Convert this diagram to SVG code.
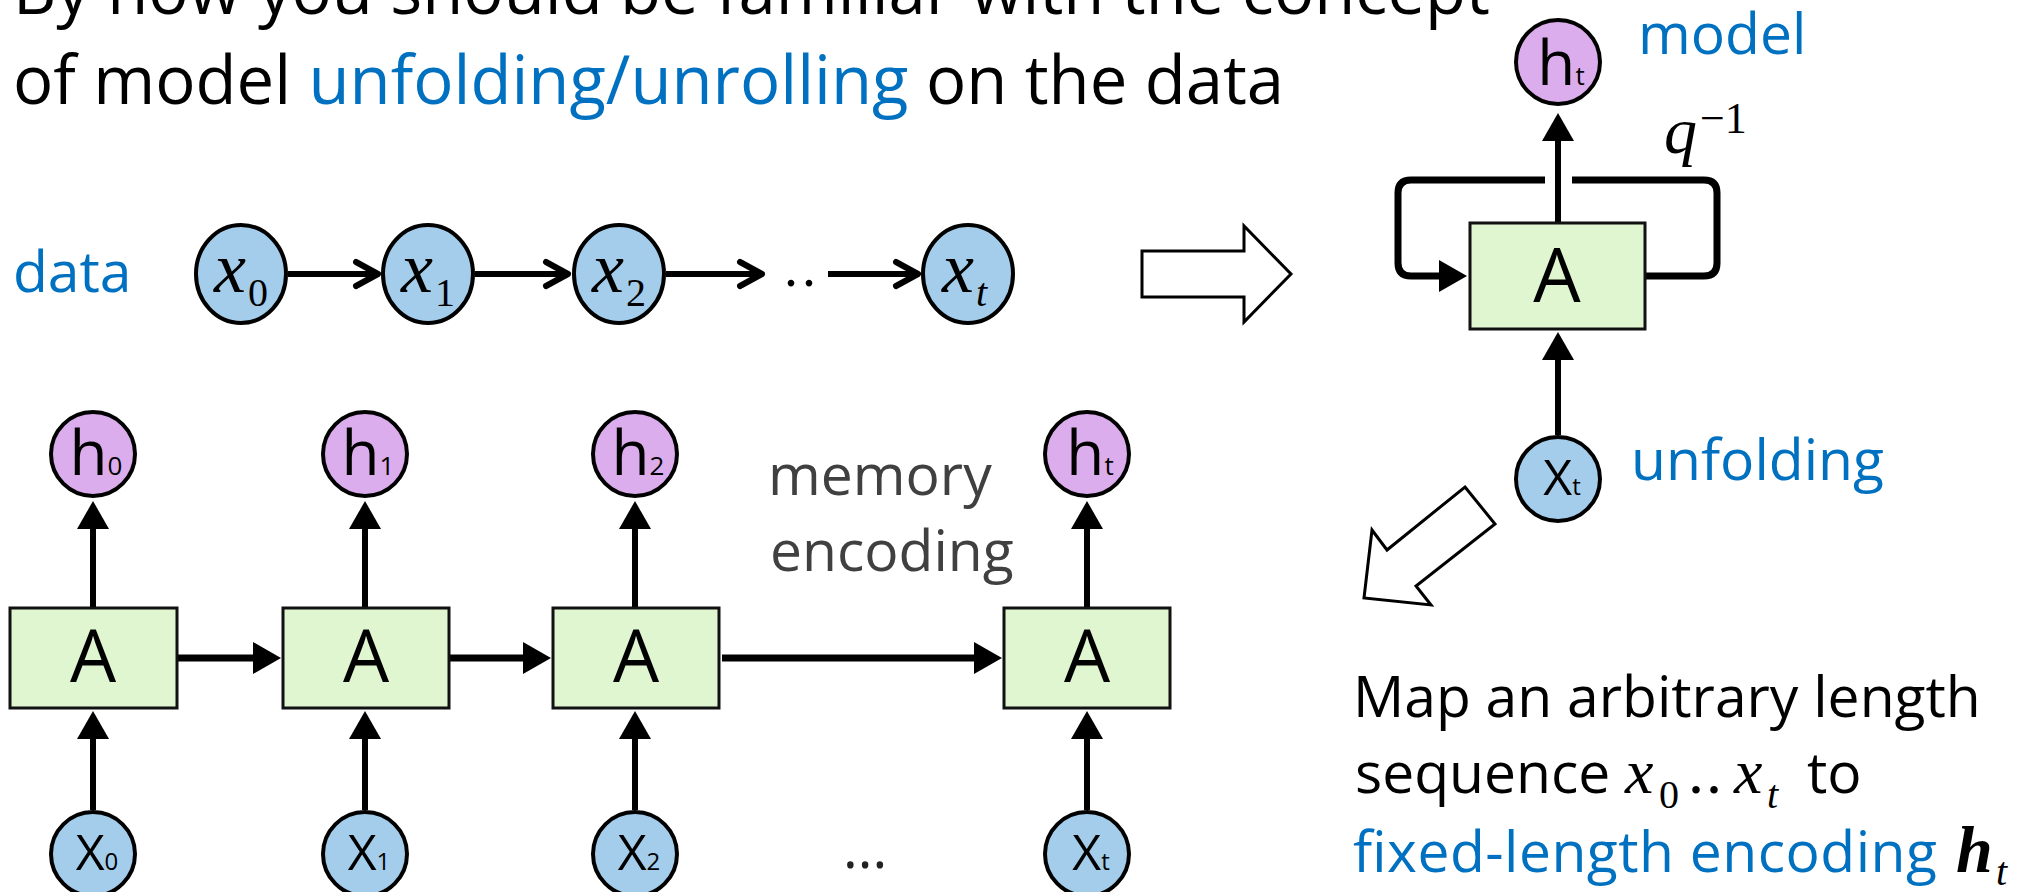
<svg xmlns="http://www.w3.org/2000/svg" width="2034" height="892" viewBox="0 0 2034 892">
<defs>
<style>
.t{font-family:"Open Sans","Noto Sans",sans-serif}
.title{font-size:67px;fill:#000}
.blue{fill:#0070c0}
.lbl{font-size:57px}
.gray{fill:#404040}
.math{font-family:"Liberation Serif","DejaVu Serif",serif;font-style:italic;fill:#000}
.up{font-style:normal}
.cb{fill:#a3cdeb;stroke:#000;stroke-width:4}
.ch{fill:#dcadec;stroke:#000;stroke-width:4}
.box{fill:#dff6d1;stroke:#111;stroke-width:3}
.ln{fill:none;stroke:#000;stroke-width:6}
.lnh{fill:none;stroke:#000;stroke-width:7}
.loop{fill:none;stroke:#000;stroke-width:7}
.blk{fill:#fff;stroke:#000;stroke-width:3}
.nl{font-family:"Open Sans","Noto Sans",sans-serif;fill:#000;text-anchor:middle}
.hl{font-size:62px}
.xl{font-size:50px}
.al{font-size:73px}
.dm{font-size:72px}
</style>
<marker id="tri" markerUnits="userSpaceOnUse" viewBox="0 0 28 32" markerWidth="28" markerHeight="32" refX="1" refY="16" orient="auto"><path d="M0,0 L28,16 L0,32 Z" fill="#000"/></marker>
<marker id="chev" markerUnits="userSpaceOnUse" viewBox="0 0 40 40" markerWidth="40" markerHeight="40" refX="31" refY="20" orient="auto"><path d="M9,8 L31,20 L9,32" fill="none" stroke="#000" stroke-width="6" stroke-linecap="round" stroke-linejoin="round"/></marker>
</defs>
<rect width="2034" height="892" fill="#fff"/>

<g id="title" class="t title">
<text x="13" y="14">By now you should be familiar with the concept</text>
<text x="13" y="104">of model <tspan class="blue">unfolding/unrolling</tspan> on the data</text>
</g>

<g id="labels" class="t lbl">
<text class="blue" x="13" y="292">data</text>
<text class="blue" x="1638" y="54">model</text>
<text class="blue" x="1631" y="480">unfolding</text>
<text class="gray" x="768" y="495">memory</text>
<text class="gray" x="770" y="571">encoding</text>
<text x="1353" y="717">Map an arbitrary length</text>
<text x="1355" y="793">sequence</text>
<text class="math" x="1625" y="793" font-size="64">x</text>
<text class="math up" x="1659" y="808" font-size="40">0</text>
<text class="math up" x="1688" y="793" font-size="64" letter-spacing="2">..</text>
<text class="math" x="1734" y="793" font-size="64">x</text>
<text class="math" x="1767" y="808" font-size="40">t</text>
<text x="1807" y="793">to</text>
<text class="blue" x="1353" y="872" textLength="584">fixed-length encoding</text>
<text class="math" x="1956" y="872" font-size="66" font-weight="bold">h</text>
<text class="math" x="1996" y="885" font-size="40">t</text>
<text x="843" y="868" font-size="56" fill="#222">...</text>
<text class="math up" x="784" y="286" font-size="56" letter-spacing="4">..</text>
</g>

<g id="connectors">
<path class="ln" d="M288,274 H378" marker-end="url(#chev)"/>
<path class="ln" d="M475,274 H568" marker-end="url(#chev)"/>
<path class="ln" d="M666,274 H762" marker-end="url(#chev)"/>
<path class="ln" d="M828,274 H918" marker-end="url(#chev)"/>
<path class="ln" d="M93,607 V528" marker-end="url(#tri)"/>
<path class="ln" d="M365,607 V528" marker-end="url(#tri)"/>
<path class="ln" d="M635,607 V528" marker-end="url(#tri)"/>
<path class="ln" d="M1087,607 V528" marker-end="url(#tri)"/>
<path class="ln" d="M93,810 V738" marker-end="url(#tri)"/>
<path class="ln" d="M365,810 V738" marker-end="url(#tri)"/>
<path class="ln" d="M635,810 V738" marker-end="url(#tri)"/>
<path class="ln" d="M1087,810 V738" marker-end="url(#tri)"/>
<path class="lnh" d="M178,658 H254" marker-end="url(#tri)"/>
<path class="lnh" d="M449,658 H524" marker-end="url(#tri)"/>
<path class="lnh" d="M722,658 H975" marker-end="url(#tri)"/>
<path class="ln" d="M1558,222 V140" marker-end="url(#tri)"/>
<path class="ln" d="M1558,435 V359" marker-end="url(#tri)"/>
<path class="loop" d="M1545,180 H1411 Q1398,180 1398,193 V263 Q1398,276 1411,276 H1440" marker-end="url(#tri)"/>
<path class="loop" d="M1646,276 H1704 Q1717,276 1717,263 V193 Q1717,180 1704,180 H1572"/>
<text class="math" x="1664" y="153" font-size="66">q</text>
<text class="math up" x="1700" y="133" font-size="44">−1</text>
<polygon class="blk" points="1142,251 1244,251 1244,226 1291,274 1244,322 1244,297 1142,297"/>
<polygon class="blk" points="1465,487 1495,524 1416,586 1431,605 1364,598 1372,530 1387,550"/>
</g>

<g id="node-x0"><ellipse class="cb" cx="241" cy="274" rx="45" ry="49"/><text class="math dm" x="214" y="292">x<tspan class="up" font-size="40" dx="2" dy="14">0</tspan></text></g>
<g id="node-x1"><ellipse class="cb" cx="428" cy="274" rx="45" ry="49"/><text class="math dm" x="401" y="292">x<tspan class="up" font-size="40" dx="2" dy="14">1</tspan></text></g>
<g id="node-x2"><ellipse class="cb" cx="619" cy="274" rx="45" ry="49"/><text class="math dm" x="592" y="292">x<tspan class="up" font-size="40" dx="2" dy="14">2</tspan></text></g>
<g id="node-xt"><ellipse class="cb" cx="968" cy="274" rx="45" ry="49"/><text class="math dm" x="942" y="292">x<tspan font-size="40" dx="2" dy="14">t</tspan></text></g>

<g id="node-h0"><circle class="ch" cx="93" cy="454" r="42"/><text class="nl hl" x="96" y="475">h<tspan font-size="26">0</tspan></text></g>
<g id="node-h1"><circle class="ch" cx="365" cy="454" r="42"/><text class="nl hl" x="368" y="475">h<tspan font-size="26">1</tspan></text></g>
<g id="node-h2"><circle class="ch" cx="635" cy="454" r="42"/><text class="nl hl" x="638" y="475">h<tspan font-size="26">2</tspan></text></g>
<g id="node-ht"><circle class="ch" cx="1087" cy="454" r="42"/><text class="nl hl" x="1090" y="475">h<tspan font-size="26">t</tspan></text></g>

<g id="node-A0"><rect class="box" x="10" y="608" width="167" height="100"/><text class="nl al" x="93" y="682">A</text></g>
<g id="node-A1"><rect class="box" x="283" y="608" width="166" height="100"/><text class="nl al" x="366" y="682">A</text></g>
<g id="node-A2"><rect class="box" x="553" y="608" width="166" height="100"/><text class="nl al" x="636" y="682">A</text></g>
<g id="node-At"><rect class="box" x="1004" y="608" width="166" height="100"/><text class="nl al" x="1087" y="682">A</text></g>

<g id="node-X0"><circle class="cb" cx="93" cy="854" r="42"/><text class="nl xl" x="97" y="870">X<tspan font-size="24">0</tspan></text></g>
<g id="node-X1"><circle class="cb" cx="365" cy="854" r="42"/><text class="nl xl" x="369" y="870">X<tspan font-size="24">1</tspan></text></g>
<g id="node-X2"><circle class="cb" cx="635" cy="854" r="42"/><text class="nl xl" x="639" y="870">X<tspan font-size="24">2</tspan></text></g>
<g id="node-Xt"><circle class="cb" cx="1087" cy="854" r="42"/><text class="nl xl" x="1091" y="870">X<tspan font-size="24">t</tspan></text></g>

<g id="model-h"><circle class="ch" cx="1558" cy="62" r="42"/><text class="nl hl" x="1561" y="85">h<tspan font-size="26">t</tspan></text></g>
<g id="model-A"><rect class="box" x="1470" y="223" width="175" height="106"/><text class="nl" x="1557" y="302" font-size="75">A</text></g>
<g id="model-x"><circle class="cb" cx="1558" cy="479" r="42"/><text class="nl xl" x="1562" y="495">X<tspan font-size="24">t</tspan></text></g>
</svg>
